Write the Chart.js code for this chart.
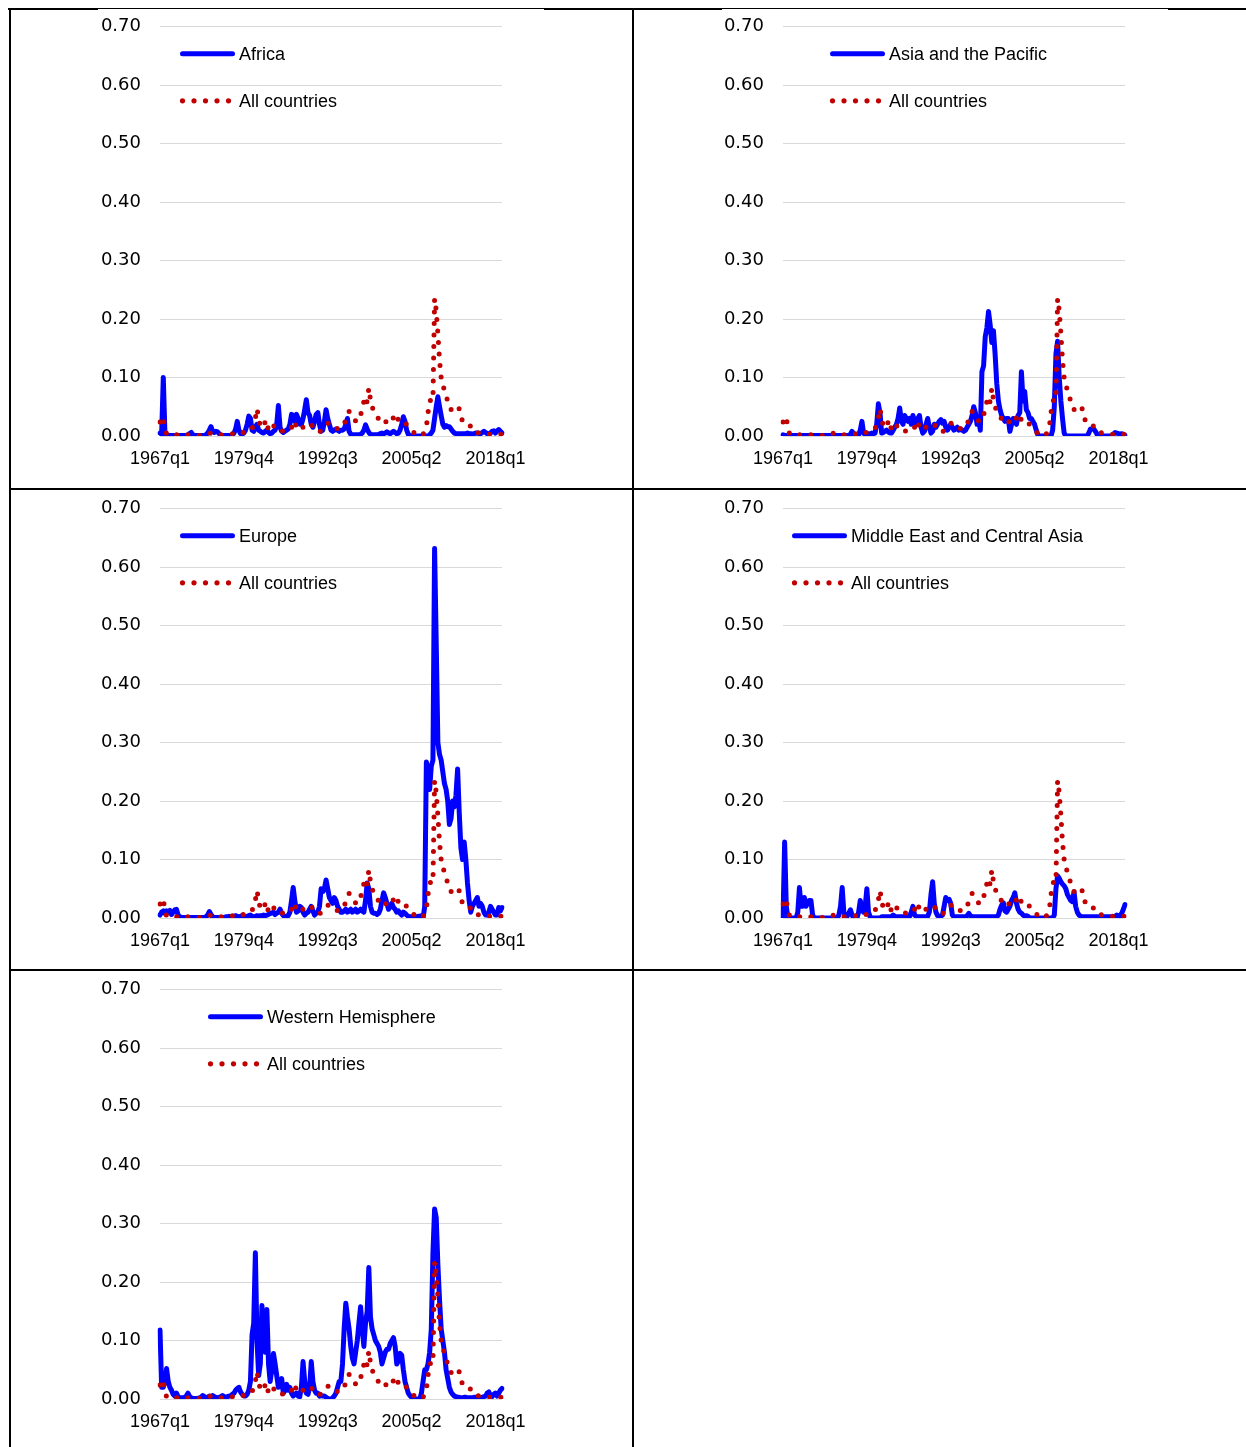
<!DOCTYPE html>
<html>
<head>
<meta charset="utf-8">
<title>Regional panels</title>
<script src="https://cdn.jsdelivr.net/npm/chart.js"></script>
<style>
  body { margin: 0; background: #fff; }
  #page { position: relative; width: 1246px; height: 1447px; overflow: hidden; background: #fff; }
  #page canvas { position: absolute; }
  .rule { position: absolute; background: #000; }
</style>
</head>
<body>
<div id="page">
  <div class="rule" style="left:8px;top:8px;width:1238px;height:1px"></div>
  <div class="rule" style="left:8px;top:9px;width:90px;height:1px"></div>
  <div class="rule" style="left:544px;top:9px;width:178px;height:1px"></div>
  <div class="rule" style="left:1168px;top:9px;width:78px;height:1px"></div>
  <div class="rule" style="left:9px;top:8px;width:2px;height:1439px"></div>
  <div class="rule" style="left:632px;top:8px;width:2px;height:1439px"></div>
  <div class="rule" style="left:9px;top:488px;width:1237px;height:2px"></div>
  <div class="rule" style="left:9px;top:969px;width:1237px;height:2px"></div>

  <canvas id="africa" width="460" height="480" style="left:80px;top:-3px"></canvas>
  <canvas id="asia" width="460" height="480" style="left:703px;top:-3px"></canvas>
  <canvas id="europe" width="460" height="480" style="left:80px;top:479px"></canvas>
  <canvas id="mideast" width="460" height="480" style="left:703px;top:479px"></canvas>
  <canvas id="western" width="460" height="480" style="left:80px;top:960px"></canvas>
</div>
<script>
    // quarters 1967q1 .. 2019q1 (209 points)
    const startYear = 1967;
    const nQuarters = 209;
    const quarters = [];
    for (let i = 0; i < nQuarters; i++) {
        quarters.push((startYear + Math.floor(i / 4)) + 'q' + (i % 4 + 1));
    }
    const tickLabels = ['1967q1', '1979q4', '1992q3', '2005q2', '2018q1'];

    const allCountries = [
        0.024,0.031,0.033,0.012,0.004,0.002,0.002,0.003,0.002,0.002,0.002,0.003,0.002,0.002,0.003,0.002,0.002,0.002,0.002,0.002,
        0.001,0.001,0.001,0.001,0.001,0.000,0.000,0.001,0.002,0.003,0.004,0.005,0.004,0.003,0.004,0.004,0.003,0.002,0.002,0.002,
        0.002,0.002,0.002,0.003,0.004,0.005,0.006,0.008,0.007,0.006,0.006,0.006,0.008,0.011,0.013,0.013,0.013,0.020,0.031,0.047,
        0.030,0.016,0.020,0.025,0.022,0.027,0.008,0.012,0.016,0.017,0.018,0.018,0.018,0.014,0.010,0.007,0.008,0.009,0.010,0.010,
        0.015,0.022,0.026,0.013,0.012,0.010,0.012,0.015,0.018,0.020,0.017,0.016,0.018,0.018,0.013,0.012,0.009,0.007,0.010,0.015,
        0.018,0.020,0.022,0.022,0.018,0.015,0.013,0.013,0.013,0.013,0.014,0.015,0.018,0.031,0.038,0.042,0.035,0.030,0.028,0.026,
        0.024,0.030,0.036,0.046,0.059,0.050,0.060,0.082,0.062,0.050,0.043,0.038,0.033,0.029,0.025,0.022,0.020,0.023,0.026,0.030,
        0.033,0.035,0.030,0.025,0.021,0.031,0.030,0.027,0.025,0.022,0.020,0.018,0.013,0.010,0.007,0.005,0.003,0.002,0.001,0.000,
        0.003,0.008,0.015,0.040,0.060,0.062,0.060,0.235,0.215,0.175,0.130,0.100,0.090,0.076,0.068,0.060,0.052,0.045,0.048,0.050,
        0.052,0.052,0.046,0.030,0.027,0.025,0.024,0.023,0.023,0.015,0.009,0.008,0.007,0.006,0.005,0.005,0.004,0.004,0.003,0.003,
        0.003,0.003,0.003,0.003,0.003,0.003,0.004,0.003,0.003
    ];

    const africa = [
        0.005,0.003,0.100,0.004,0.002,0.001,0.001,0.001,0.001,0.001,0.001,0.001,0.001,0.001,0.001,0.001,0.001,0.002,0.004,0.006,
        0.002,0.001,0.001,0.001,0.001,0.001,0.001,0.001,0.002,0.005,0.010,0.016,0.008,0.006,0.008,0.007,0.004,0.001,0.001,0.001,
        0.001,0.001,0.001,0.001,0.002,0.005,0.012,0.025,0.010,0.004,0.003,0.005,0.010,0.020,0.034,0.030,0.010,0.008,0.015,0.020,
        0.010,0.008,0.006,0.005,0.008,0.010,0.006,0.004,0.005,0.008,0.010,0.020,0.052,0.015,0.008,0.006,0.008,0.010,0.012,0.020,
        0.037,0.035,0.025,0.037,0.030,0.020,0.020,0.030,0.045,0.062,0.040,0.035,0.020,0.015,0.025,0.037,0.040,0.020,0.008,0.010,
        0.025,0.045,0.030,0.020,0.010,0.008,0.010,0.012,0.010,0.008,0.010,0.010,0.012,0.020,0.030,0.008,0.003,0.002,0.002,0.002,
        0.002,0.002,0.003,0.005,0.010,0.019,0.012,0.006,0.003,0.002,0.002,0.002,0.002,0.003,0.004,0.005,0.004,0.005,0.007,0.005,
        0.004,0.006,0.008,0.006,0.004,0.005,0.010,0.020,0.033,0.025,0.010,0.003,0.001,0.000,0.000,0.000,0.000,0.000,0.000,0.000,
        0.000,0.000,0.000,0.000,0.002,0.005,0.010,0.030,0.050,0.067,0.050,0.035,0.020,0.015,0.018,0.016,0.016,0.012,0.008,0.005,
        0.004,0.004,0.004,0.004,0.004,0.004,0.004,0.005,0.004,0.004,0.003,0.004,0.005,0.005,0.004,0.004,0.006,0.008,0.006,0.004,
        0.004,0.005,0.008,0.009,0.005,0.008,0.011,0.008,0.005
    ];

    const asiaPacific = [
        0.002,0.001,0.001,0.001,0.001,0.001,0.001,0.001,0.001,0.001,0.001,0.001,0.001,0.001,0.001,0.001,0.001,0.001,0.001,0.001,
        0.001,0.001,0.001,0.001,0.001,0.001,0.001,0.001,0.001,0.001,0.001,0.001,0.001,0.001,0.001,0.001,0.001,0.001,0.001,0.001,
        0.001,0.003,0.008,0.003,0.001,0.001,0.002,0.010,0.025,0.005,0.002,0.003,0.004,0.003,0.005,0.004,0.005,0.020,0.055,0.040,
        0.005,0.006,0.008,0.010,0.007,0.005,0.005,0.010,0.015,0.020,0.030,0.048,0.025,0.020,0.035,0.030,0.025,0.030,0.020,0.035,
        0.025,0.020,0.030,0.035,0.015,0.005,0.008,0.020,0.030,0.015,0.005,0.008,0.020,0.015,0.020,0.025,0.028,0.022,0.025,0.015,
        0.010,0.015,0.020,0.015,0.010,0.012,0.015,0.010,0.012,0.010,0.008,0.010,0.015,0.020,0.025,0.035,0.050,0.040,0.020,0.030,
        0.010,0.110,0.120,0.170,0.185,0.213,0.190,0.160,0.180,0.140,0.090,0.060,0.045,0.035,0.030,0.025,0.030,0.030,0.008,0.020,
        0.030,0.025,0.020,0.035,0.040,0.110,0.060,0.076,0.045,0.040,0.030,0.030,0.025,0.020,0.010,0.002,0.000,0.000,0.000,0.000,
        0.000,0.000,0.000,0.000,0.010,0.050,0.140,0.162,0.100,0.060,0.030,0.005,0.000,0.000,0.000,0.000,0.000,0.000,0.000,0.000,
        0.000,0.000,0.000,0.000,0.000,0.000,0.005,0.012,0.012,0.012,0.008,0.003,0.000,0.000,0.000,0.000,0.000,0.000,0.000,0.000,
        0.001,0.003,0.006,0.005,0.004,0.003,0.004,0.002,0.001
    ];

    const europe = [
        0.005,0.010,0.012,0.008,0.012,0.010,0.013,0.006,0.010,0.014,0.015,0.005,0.002,0.001,0.001,0.001,0.001,0.001,0.001,0.001,
        0.001,0.001,0.001,0.001,0.001,0.001,0.001,0.001,0.002,0.005,0.011,0.006,0.002,0.001,0.001,0.001,0.001,0.001,0.001,0.001,
        0.002,0.002,0.003,0.002,0.002,0.003,0.004,0.003,0.002,0.003,0.004,0.003,0.002,0.003,0.004,0.005,0.003,0.002,0.003,0.004,
        0.003,0.004,0.004,0.005,0.004,0.005,0.006,0.008,0.008,0.010,0.006,0.008,0.010,0.015,0.008,0.004,0.003,0.003,0.004,0.010,
        0.030,0.052,0.030,0.010,0.012,0.020,0.018,0.010,0.005,0.008,0.010,0.015,0.020,0.012,0.005,0.008,0.010,0.020,0.050,0.045,
        0.050,0.065,0.050,0.035,0.030,0.025,0.035,0.030,0.020,0.015,0.010,0.010,0.012,0.015,0.010,0.012,0.015,0.010,0.012,0.015,
        0.010,0.012,0.015,0.012,0.010,0.030,0.060,0.050,0.020,0.010,0.008,0.008,0.006,0.008,0.015,0.030,0.043,0.035,0.025,0.015,
        0.020,0.025,0.018,0.015,0.010,0.012,0.008,0.005,0.010,0.008,0.005,0.003,0.002,0.002,0.002,0.002,0.002,0.003,0.003,0.004,
        0.000,0.020,0.267,0.250,0.220,0.260,0.270,0.632,0.470,0.300,0.280,0.270,0.250,0.230,0.220,0.200,0.160,0.170,0.200,0.190,
        0.210,0.255,0.180,0.120,0.100,0.130,0.100,0.060,0.030,0.010,0.020,0.025,0.030,0.035,0.020,0.025,0.020,0.010,0.005,0.005,
        0.010,0.020,0.015,0.010,0.005,0.005,0.018,0.012,0.018
    ];

    const middleEast = [
        0.000,0.130,0.020,0.000,0.000,0.000,0.000,0.000,0.000,0.010,0.052,0.020,0.020,0.035,0.020,0.025,0.030,0.030,0.005,0.000,
        0.000,0.000,0.000,0.000,0.000,0.000,0.000,0.000,0.000,0.000,0.000,0.000,0.000,0.000,0.005,0.020,0.052,0.010,0.003,0.003,
        0.008,0.014,0.005,0.000,0.000,0.000,0.010,0.030,0.015,0.010,0.020,0.050,0.010,0.002,0.000,0.000,0.000,0.000,0.000,0.000,
        0.002,0.002,0.002,0.002,0.002,0.002,0.002,0.005,0.003,0.002,0.002,0.002,0.002,0.002,0.002,0.002,0.002,0.003,0.010,0.020,
        0.005,0.003,0.002,0.002,0.002,0.002,0.002,0.002,0.003,0.010,0.040,0.062,0.025,0.010,0.004,0.003,0.003,0.005,0.020,0.035,
        0.030,0.032,0.025,0.005,0.002,0.002,0.002,0.002,0.002,0.002,0.002,0.002,0.004,0.008,0.004,0.002,0.002,0.002,0.002,0.002,
        0.002,0.002,0.002,0.002,0.002,0.002,0.002,0.002,0.002,0.002,0.002,0.005,0.015,0.022,0.026,0.012,0.010,0.015,0.020,0.030,
        0.035,0.043,0.025,0.015,0.010,0.008,0.005,0.003,0.004,0.003,0.000,0.000,0.000,0.000,0.000,0.000,0.000,0.000,0.000,0.000,
        0.000,0.000,0.000,0.000,0.000,0.005,0.050,0.072,0.068,0.062,0.058,0.055,0.050,0.040,0.035,0.030,0.028,0.045,0.020,0.010,
        0.005,0.003,0.002,0.002,0.002,0.002,0.002,0.002,0.002,0.002,0.002,0.002,0.002,0.002,0.002,0.002,0.002,0.002,0.002,0.002,
        0.002,0.002,0.003,0.005,0.004,0.003,0.008,0.015,0.023
    ];

    const westernHemisphere = [
        0.118,0.020,0.020,0.030,0.052,0.030,0.020,0.015,0.008,0.005,0.010,0.004,0.002,0.002,0.002,0.003,0.005,0.010,0.004,0.002,
        0.001,0.001,0.001,0.001,0.002,0.003,0.006,0.004,0.002,0.003,0.005,0.003,0.006,0.004,0.003,0.002,0.003,0.004,0.006,0.004,
        0.003,0.004,0.005,0.005,0.008,0.010,0.015,0.018,0.020,0.012,0.008,0.005,0.005,0.008,0.015,0.030,0.110,0.130,0.250,0.100,
        0.040,0.060,0.160,0.100,0.080,0.153,0.060,0.030,0.050,0.078,0.060,0.040,0.020,0.025,0.035,0.010,0.015,0.025,0.015,0.020,
        0.010,0.005,0.008,0.010,0.005,0.004,0.020,0.064,0.030,0.010,0.008,0.020,0.064,0.030,0.015,0.010,0.010,0.005,0.006,0.005,
        0.005,0.003,0.001,0.000,0.000,0.002,0.005,0.010,0.020,0.030,0.030,0.060,0.120,0.164,0.140,0.120,0.090,0.070,0.060,0.080,
        0.100,0.130,0.158,0.120,0.090,0.130,0.150,0.225,0.140,0.120,0.110,0.100,0.095,0.090,0.080,0.060,0.070,0.080,0.085,0.085,
        0.095,0.100,0.105,0.090,0.060,0.065,0.078,0.075,0.050,0.030,0.020,0.010,0.006,0.003,0.001,0.000,0.000,0.000,0.000,0.010,
        0.030,0.050,0.050,0.060,0.080,0.120,0.250,0.325,0.310,0.230,0.170,0.120,0.100,0.080,0.050,0.035,0.020,0.012,0.008,0.005,
        0.004,0.003,0.003,0.002,0.002,0.003,0.003,0.002,0.002,0.002,0.002,0.003,0.003,0.002,0.002,0.002,0.003,0.004,0.005,0.010,
        0.012,0.005,0.004,0.008,0.010,0.005,0.010,0.015,0.018
    ];

    const BLUE = '#0000ff';
    const RED = '#c00000';
    const FONT = { family: '"Liberation Sans", Arial, sans-serif', size: 18 };
    const YFONT = { family: '"DejaVu Sans", sans-serif', size: 18 };

    // legend drawn inside the plot, like the spreadsheet one
    const panelLegend = {
        id: 'panelLegend',
        afterDraw(chart, args, opts) {
            const ctx = chart.ctx;
            const x0 = chart.chartArea.left + opts.dx;
            const y1 = chart.chartArea.top + 27;
            const y2 = chart.chartArea.top + 74;
            ctx.save();
            ctx.lineCap = 'round';
            ctx.strokeStyle = BLUE;
            ctx.lineWidth = 5;
            ctx.beginPath();
            ctx.moveTo(x0 + 2.5, y1);
            ctx.lineTo(x0 + 52.5, y1);
            ctx.stroke();
            ctx.fillStyle = RED;
            for (let k = 0; k < 5; k++) {
                ctx.beginPath();
                ctx.arc(x0 + 2.5 + k * 11.5, y2, 2.6, 0, Math.PI * 2);
                ctx.fill();
            }
            ctx.fillStyle = '#000';
            ctx.font = FONT.size + 'px ' + FONT.family;
            ctx.textBaseline = 'middle';
            ctx.fillText(opts.label, x0 + 59, y1 + 1);
            ctx.fillText('All countries', x0 + 59, y2 + 1);
            ctx.restore();
        }
    };

    function makePanel(id, label, values, dx) {
        return new Chart(document.getElementById(id), {
            type: 'line',
            data: {
                labels: quarters,
                datasets: [{
                    label: label,
                    data: values,
                    borderColor: BLUE,
                    borderWidth: 5,
                    borderJoinStyle: 'round',
                    borderCapStyle: 'round',
                    pointRadius: 0,
                    tension: 0,
                    order: 1
                }, {
                    label: 'All countries',
                    data: allCountries,
                    borderColor: RED,
                    borderWidth: 5,
                    borderDash: [0, 11.5],
                    borderCapStyle: 'round',
                    pointRadius: 0,
                    tension: 0,
                    order: 0
                }]
            },
            options: {
                responsive: false,
                animation: false,
                events: [],
                layout: { padding: { top: 16, right: 38, bottom: 0, left: 0 } },
                plugins: {
                    legend: { display: false },
                    tooltip: { enabled: false },
                    panelLegend: { label: label, dx: dx }
                },
                scales: {
                    x: {
                        grid: { display: false, drawTicks: false },
                        border: { display: false },
                        ticks: {
                            autoSkip: false,
                            maxRotation: 0,
                            padding: 12,
                            color: '#000',
                            font: FONT,
                            callback: (v, i) => tickLabels.includes(quarters[i]) ? quarters[i] : ''
                        },
                        afterFit: s => { s.height = 41; }
                    },
                    y: {
                        min: 0,
                        max: 0.7,
                        grid: { color: '#d9d9d9', lineWidth: 1, drawTicks: false },
                        border: { display: false },
                        ticks: {
                            stepSize: 0.1,
                            padding: 19,
                            color: '#000',
                            font: YFONT,
                            callback: v => v.toFixed(2)
                        },
                        afterFit: s => { s.width = 80; }
                    }
                }
            },
            plugins: [panelLegend]
        });
    }

    makePanel('africa', 'Africa', africa, 20);
    makePanel('asia', 'Asia and the Pacific', asiaPacific, 47);
    makePanel('europe', 'Europe', europe, 20);
    makePanel('mideast', 'Middle East and Central Asia', middleEast, 9);
    makePanel('western', 'Western Hemisphere', westernHemisphere, 48);
</script>
</body>
</html>
